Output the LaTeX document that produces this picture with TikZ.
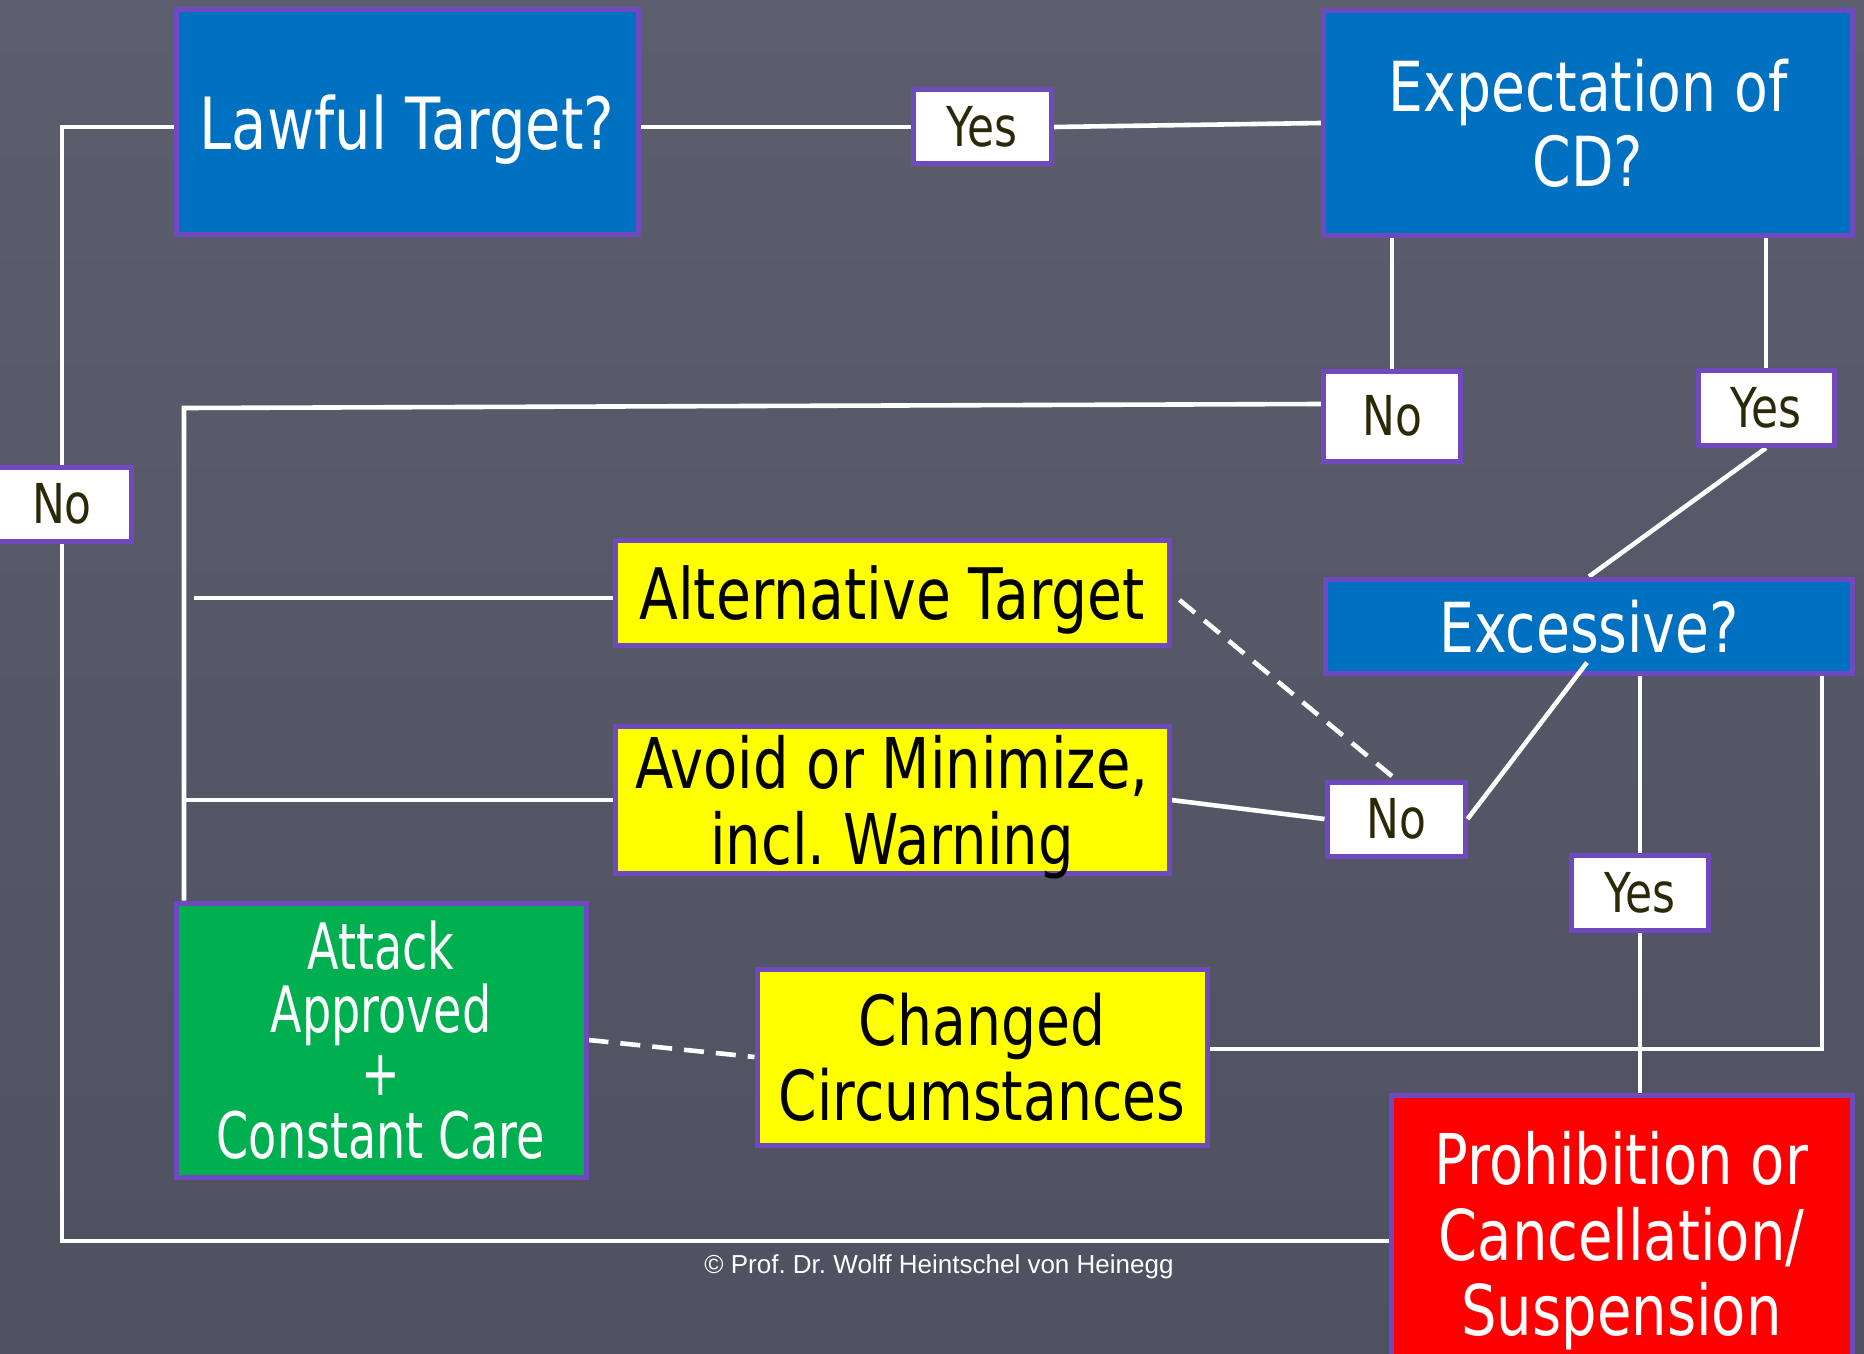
\documentclass[tikz,border=0pt]{standalone}
\usepackage{fontspec}
\setmainfont[FakeStretch=0.8]{DejaVu Sans}
\newfontfamily\narrowfont[FakeStretch=0.72]{DejaVu Sans}
\newfontfamily\copyfont{Liberation Sans}
\usetikzlibrary{calc}
\definecolor{bgtop}{HTML}{5C5E6E}
\definecolor{bgbot}{HTML}{4F5160}
\definecolor{purp}{HTML}{6F4ABF}
\definecolor{bluebox}{HTML}{0070C0}
\definecolor{yelbox}{HTML}{FFFF00}
\definecolor{grnbox}{HTML}{00B050}
\definecolor{redbox}{HTML}{FF0000}
\definecolor{lbltext}{HTML}{2A2A08}
\pgfdeclarelayer{bg}
\pgfsetlayers{bg,main}
\tikzset{
  box/.style={rectangle, draw=purp, line width=2.5pt, inner sep=0pt, align=center},
  bluenode/.style={box, fill=bluebox, text=white, font=\fontsize{34.5}{37.5}\selectfont},
  yelnode/.style={box, fill=yelbox, text=black, font=\fontsize{34.5}{37.5}\selectfont},
  lblnode/.style={box, fill=white, text=lbltext, font=\fontsize{27.5}{30}\selectfont},
  conn/.style={draw=white, line width=2.3pt},
  dconn/.style={conn, dash pattern=on 10pt off 6pt},
}
\begin{document}
\frenchspacing
\begin{tikzpicture}[x=0.5pt,y=-0.5pt]
\useasboundingbox (0,0) rectangle (1864,1354);
\begin{scope}
\clip (0,0) rectangle (1864,1354);
\begin{pgfonlayer}{bg}
\shade[top color=bgtop, bottom color=bgbot] (0,0) rectangle (1864,1354);
\end{pgfonlayer}

% nodes
\node[bluenode, minimum width=231pt, minimum height=112.5pt, text depth=0pt, font=\fontsize{36}{38}\selectfont] (lawful) at (407,122) {Lawful Target?};
\node[lblnode, minimum width=69pt, minimum height=37pt] (yes1) at (982,127) {Yes};
\node[bluenode, minimum width=264.5pt, minimum height=112.5pt] (expect) at (1588,123) {Expectation of\\CD?};
\node[lblnode, minimum width=69pt, minimum height=37pt] (noleft) at (62,504) {No};
\node[lblnode, minimum width=68.5pt, minimum height=45pt] (nomid) at (1392,416) {No};
\node[lblnode, minimum width=68pt, minimum height=37.5pt] (yesr) at (1766,408) {Yes};
\node[yelnode, minimum width=277pt, minimum height=52.5pt, text depth=0pt, font=\fontsize{35.5}{38}\selectfont] (alt) at (892,593) {Alternative Target};
\node[bluenode, minimum width=263.5pt, minimum height=47pt, text depth=0pt] (exc) at (1589,626) {Excessive?};
\node[yelnode, minimum width=277pt, minimum height=73.5pt, text depth=0pt, font=\fontsize{35}{38}\selectfont] (avoid) at (892,800) {Avoid or Minimize,\\incl. Warning};
\node[lblnode, minimum width=69pt, minimum height=37pt] (nolow) at (1396,819) {No};
\node[lblnode, minimum width=68.5pt, minimum height=37.5pt] (yeslow) at (1640,893) {Yes};
\node[box, fill=grnbox, text=white, font=\narrowfont\fontsize{32}{31.5}\selectfont, minimum width=205pt, minimum height=137pt] (attack) at (381,1040) {Attack\\Approved\\+\\Constant Care};
\node[yelnode, minimum width=225pt, minimum height=88pt] (changed) at (982,1057) {Changed\\Circumstances};
\node[box, fill=redbox, text=white, font=\fontsize{35}{37.75}\selectfont, minimum width=230.5pt, minimum height=146pt] (prohib) at (1621.5,1241) {Prohibition or\\Cancellation/\\Suspension};
\node[text=white, font=\copyfont\fontsize{13}{15}\selectfont] (copy) at (939,1267) {© Prof. Dr. Wolff Heintschel von Heinegg};

% connectors
\begin{pgfonlayer}{bg}
\coordinate (tl) at (184,408);
\coordinate (rc) at (1822,1049);
\draw[conn] ($(lawful.west)+(0,5)$) -| (noleft.north);
\draw[conn] (noleft.south) |- (prohib.west);
\draw[conn] ($(lawful.east)+(0,5)$) -- (yes1.west);
\draw[conn] (yes1.east) -- (expect.west);
\draw[conn] (expect.south -| nomid.north) -- (nomid.north);
\draw[conn] (expect.south -| yesr.north) -- (yesr.north);
\draw[conn] ($(nomid.west)+(0,-12)$) -- (tl) -- (tl |- attack.north);
\draw[conn] ($(alt.west)+(0,5)$) -- ($(alt.west)+(-419,5)$);
\draw[conn] (avoid.west) -- (avoid.west -| tl);
\draw[conn] (yesr.south) -- (exc.north);
\draw[conn] (nolow.west) -- (avoid.east);
\draw[dconn] ($(alt.east)+(8,7)$) -- (nolow.north);
\draw[conn] (exc.south -| yeslow.north) -- (yeslow.north);
\draw[conn] (yeslow.south) -- (yeslow.south |- prohib.north);
\draw[conn] (rc |- exc.south) -- (rc) -- (rc -| changed.east);
\draw[dconn] (attack.east) -- (changed.west);
\end{pgfonlayer}
\draw[conn] (nolow.east) -- ($(exc.south)+(-2,-13)$);
\end{scope}
\end{tikzpicture}
\end{document}
